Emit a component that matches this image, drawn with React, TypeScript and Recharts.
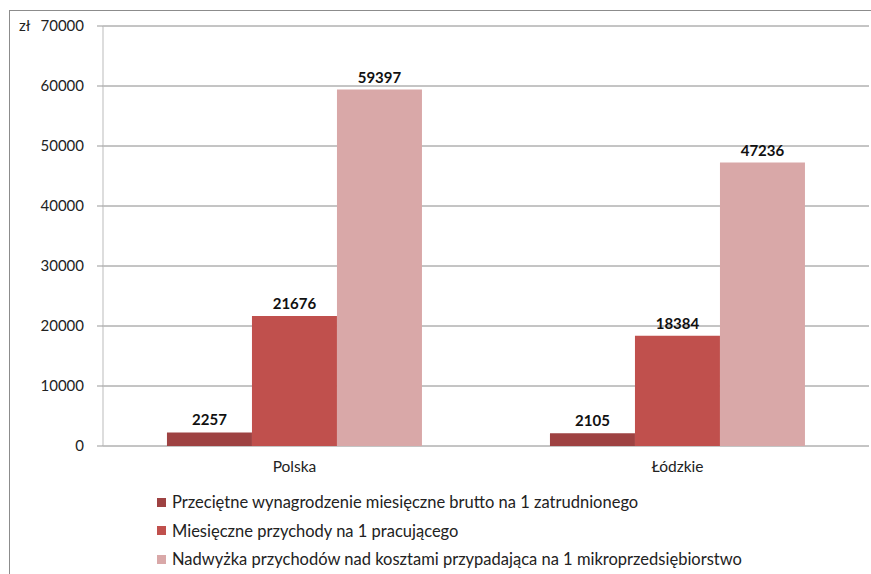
import * as React from "react";
import { BarChart, Bar, XAxis, YAxis, CartesianGrid, LabelList } from "recharts";

const regions = ["Polska", "Łódzkie"];
const wynagrodzenie = [2257, 2105];
const przychody = [21676, 18384];
const nadwyzka = [59397, 47236];
const yTicks = [0, 10000, 20000, 30000, 40000, 50000, 60000, 70000];

const series = [
  { key: "wyn", name: "Przeciętne wynagrodzenie miesięczne brutto na 1 zatrudnionego", color: "#9E4242" },
  { key: "prz", name: "Miesięczne przychody na 1 pracującego", color: "#C0504D" },
  { key: "nad", name: "Nadwyżka przychodów nad kosztami przypadająca na 1 mikroprzedsiębiorstwo", color: "#D9A8A8" },
];

const data = regions.map((name, i) => ({
  name,
  wyn: wynagrodzenie[i],
  prz: przychody[i],
  nad: nadwyzka[i],
}));

const font = "Lato, 'Open Sans', sans-serif";

export default function App() {
  return (
    <div
      style={{
        position: "absolute",
        left: 0,
        top: 0,
        width: 871,
        height: 574,
        overflow: "hidden",
        background: "#fff",
        fontFamily: font,
      }}
    >
      <div
        style={{
          position: "absolute",
          left: 9,
          top: 10,
          width: 870,
          height: 600,
          border: "1px solid #8c8c8c",
        }}
      />
      <div style={{ position: "absolute", left: 19, top: 16, fontSize: 15, color: "#222" }}>zł</div>
      <div style={{ position: "absolute", left: 0, top: 0 }}>
        <BarChart
          width={871}
          height={574}
          data={data}
          margin={{ top: 26, right: 2, left: 43, bottom: 98 }}
          barCategoryGap="16.7%"
          barGap={0}
        >
          <CartesianGrid vertical={false} stroke="#8a8a8a" />
          <XAxis
            xAxisId="frame"
            type="number"
            domain={[0, 2]}
            ticks={[0, 1, 2]}
            allowDataOverflow
            tick={false}
            tickSize={6}
            tickLine={{ stroke: "#999" }}
            axisLine={{ stroke: "#999" }}
            height={0}
          />
          <XAxis
            xAxisId="cat"
            dataKey="name"
            axisLine={false}
            tickLine={false}
            tickSize={0}
            tickMargin={15}
            height={30}
            tick={{ fill: "#222", fontSize: 15.5, fontFamily: font }}
          />
          <YAxis
            domain={[0, 70000]}
            ticks={yTicks}
            width={60}
            tickSize={6}
            tickMargin={13}
            tickLine={{ stroke: "#999" }}
            axisLine={{ stroke: "#bbb" }}
            tick={{ fill: "#222", fontSize: 15, fontFamily: font }}
          />
          {series.map((s) => (
            <Bar key={s.key} xAxisId="cat" dataKey={s.key} name={s.name} fill={s.color} isAnimationActive={false}>
              <LabelList
                dataKey={s.key}
                position="top"
                offset={7}
                style={{ fill: "#111", fontWeight: 700, fontSize: 15, fontFamily: font }}
              />
            </Bar>
          ))}
        </BarChart>
      </div>
      <div style={{ position: "absolute", left: 157, top: 488 }}>
        {series.map((s) => (
          <div
            key={s.key}
            style={{ display: "flex", alignItems: "center", height: 28.5, fontSize: 16.5, color: "#222" }}
          >
            <span style={{ width: 9, height: 9, background: s.color, marginRight: 6, display: "inline-block" }} />
            <span>{s.name}</span>
          </div>
        ))}
      </div>
    </div>
  );
}
